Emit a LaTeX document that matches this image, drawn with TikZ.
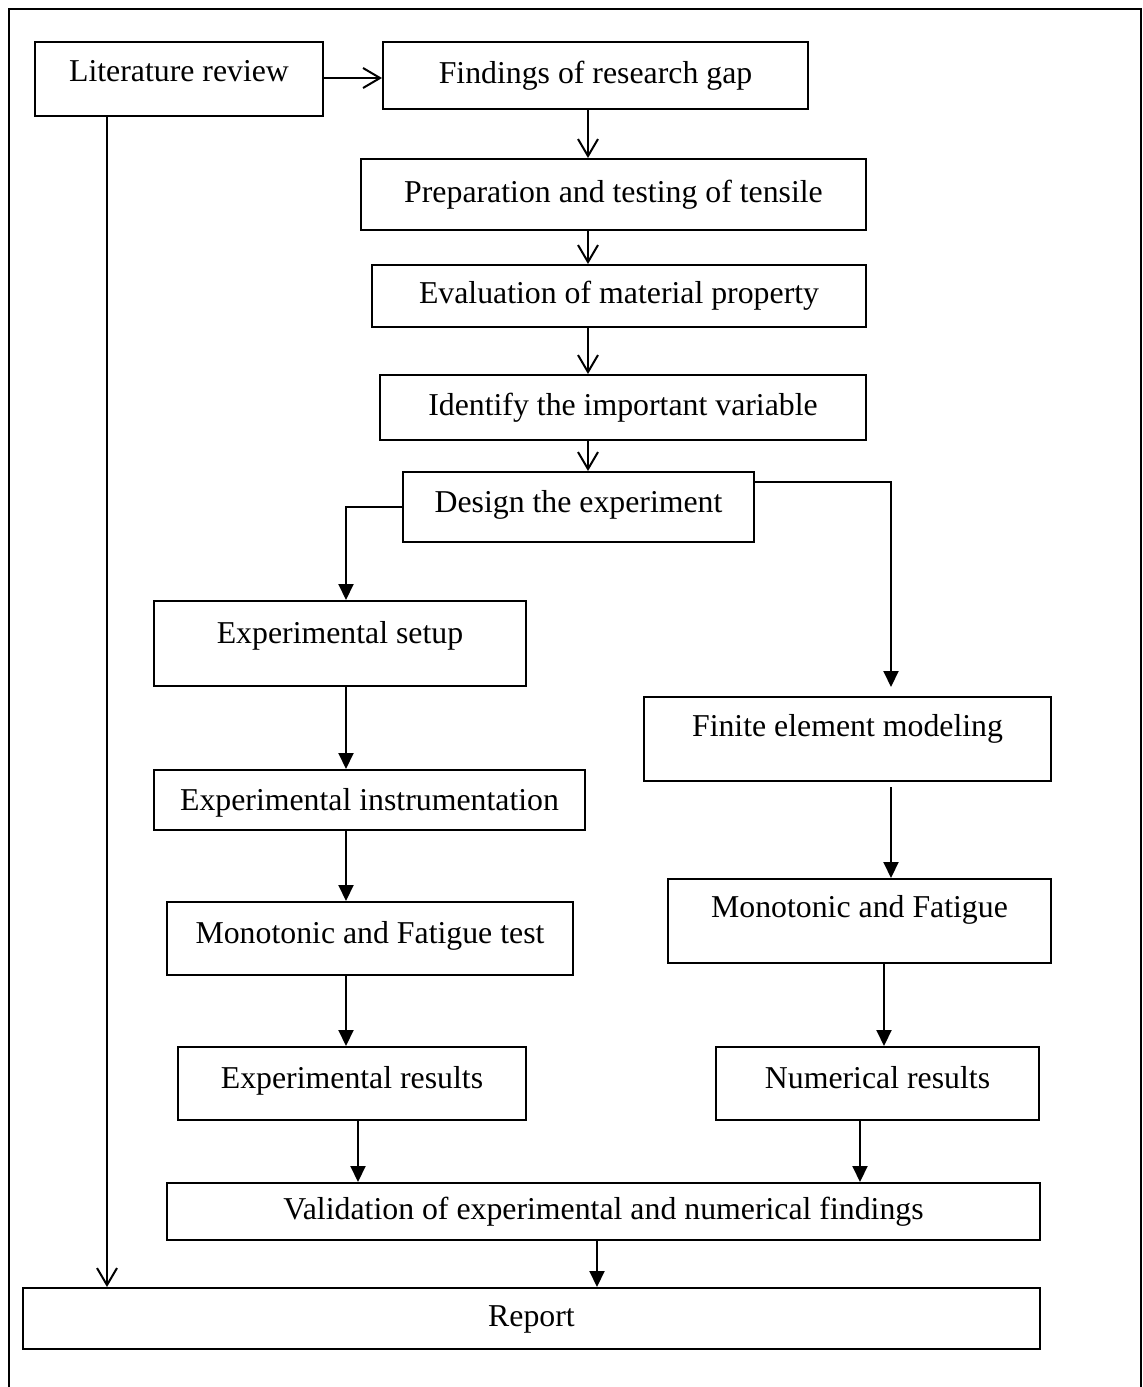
\documentclass[tikz,border=0pt]{standalone}
\usepackage{fontspec}
\setmainfont{Liberation Serif}
\usetikzlibrary{arrows.meta}

\tikzset{every picture/.style={line width=2pt}}
\tikzset{
  box/.style={draw, rectangle, inner sep=0pt, line width=2pt, font=\fontsize{31.8}{38}\selectfont, text height=22pt, text depth=7pt},
  openarr/.style={-{Straight Barb[length=17pt,width=20pt,line width=2pt]}},
  fillarr/.style={-{Triangle[length=16pt,width=15pt]}}
}

\begin{document}
\begin{tikzpicture}[x=1pt,y=1pt,yscale=-1,xscale=1]
\useasboundingbox (0,0) rectangle (1143,1387);

%Frame
\draw [line width=2.5pt] (9,1387) -- (9,9) -- (1141,9) -- (1141,1387);

%Column coordinates
\coordinate (spine) at (588,0);
\coordinate (lcol) at (346,0);
\coordinate (rcol) at (891,0);
\coordinate (lit col) at (107,0);

% Boxes
\node [box, minimum width=288pt, minimum height=74pt, text depth=17pt] (lit) at (179,79) {Literature review};
\node [box, minimum width=425pt, minimum height=67pt] (find) at (595.5,75.5) {Findings of research gap};
\node [box, minimum width=505pt, minimum height=71pt] (prep) at (613.5,194.5) {Preparation and testing of tensile};
\node [box, minimum width=494pt, minimum height=62pt] (eval) at (619,296) {Evaluation of material property};
\node [box, minimum width=486pt, minimum height=65pt] (ident) at (623,407.5) {Identify the important variable};
\node [box, minimum width=351pt, minimum height=70pt, text depth=11pt] (design) at (578.5,507) {Design the experiment};
\node [box, minimum width=372pt, minimum height=85pt, text depth=23pt] (setup) at (340,643.5) {Experimental setup};
\node [box, minimum width=407pt, minimum height=84pt, text depth=28pt] (fem) at (847.5,739) {Finite element modeling};
\node [box, minimum width=431pt, minimum height=60pt, text height=28pt] (instr) at (369.5,800) {Experimental instrumentation};
\node [box, minimum width=406pt, minimum height=73pt, text depth=13pt] (montest) at (370,938.5) {Monotonic and Fatigue test};
\node [box, minimum width=383pt, minimum height=84pt, text depth=30pt] (monfat) at (859.5,921) {Monotonic and Fatigue};
\node [box, minimum width=348pt, minimum height=73pt, text depth=13pt] (expres) at (352,1083.5) {Experimental results};
\node [box, minimum width=323pt, minimum height=73pt, text depth=12pt] (numres) at (877.5,1083.5) {Numerical results};
\node [box, minimum width=873pt, minimum height=57pt] (valid) at (603.5,1211.5) {Validation of experimental and numerical findings};
\node [box, minimum width=1017pt, minimum height=61pt] (report) at (531.5,1318.5) {Report};

% Upper chain
\draw [openarr] (lit.east |- 0,78) -- (find.west |- 0,78);
\draw [openarr] (spine |- find.south) -- (spine |- prep.north);
\draw [openarr] (spine |- prep.south) -- (spine |- eval.north);
\draw [openarr] (spine |- eval.south) -- (spine |- ident.north);
\draw [openarr] (spine |- ident.south) -- (spine |- design.north);
\draw [openarr] (lit col |- lit.south) -- (lit col |- report.north);

% Experimental branch
\draw [fillarr] (design.west) -| (lcol |- setup.north);
\draw [fillarr] (lcol |- setup.south) -- (lcol |- instr.north);
\draw [fillarr] (lcol |- instr.south) -- (lcol |- montest.north);
\draw [fillarr] (lcol |- montest.south) -- (lcol |- expres.north);

% Numerical branch
\draw [fillarr] ([yshift=11pt]design.north east) -| ([yshift=-9pt]rcol |- fem.north);
\draw [fillarr] ([yshift=5pt]rcol |- fem.south) -- (rcol |- monfat.north);
\draw [fillarr] (884,0 |- monfat.south) -- (884,0 |- numres.north);

% Validation and report
\draw [fillarr] (358,0 |- expres.south) -- (358,0 |- valid.north);
\draw [fillarr] (860,0 |- numres.south) -- (860,0 |- valid.north);
\draw [fillarr] (597,0 |- valid.south) -- (597,0 |- report.north);

\end{tikzpicture}
\end{document}
